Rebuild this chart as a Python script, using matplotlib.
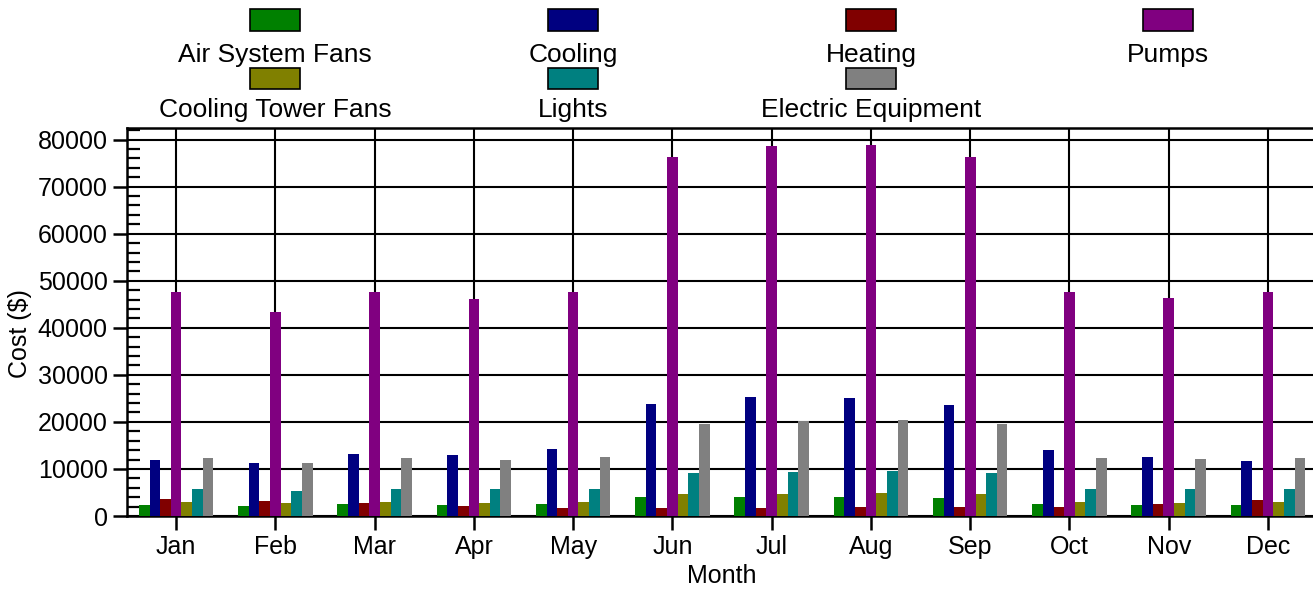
import numpy as np
import matplotlib
matplotlib.use('Agg')
import matplotlib.pyplot as plt
from matplotlib.patches import Rectangle
from matplotlib.ticker import MultipleLocator

plt.rcParams['font.family'] = ['Liberation Sans', 'DejaVu Sans']
plt.rcParams['font.size'] = 18

# months on the x axis
months = ['Jan', 'Feb', 'Mar', 'Apr', 'May', 'Jun', 'Jul', 'Aug', 'Sep', 'Oct', 'Nov', 'Dec']

# monthly cost per end use ($)
air_system_fans = [2340, 2130, 2480, 2410, 2550, 3970, 4040, 4040, 3900, 2480, 2340, 2340]
cooling = [11850, 11200, 13120, 12980, 14180, 23830, 25250, 25040, 23620, 14040, 12480, 11770]
heating = [3690, 3120, 2770, 2130, 1700, 1770, 1770, 1840, 1840, 1910, 2550, 3400]
pumps = [47700, 43300, 47700, 46200, 47700, 76300, 78600, 78800, 76200, 47700, 46300, 47700]
cooling_tower_fans = [2910, 2700, 2980, 2840, 2980, 4610, 4750, 4820, 4610, 2980, 2840, 2980]
lights = [5740, 5250, 5810, 5670, 5810, 9150, 9430, 9500, 9150, 5740, 5670, 5740]
electric_equipment = [12340, 11280, 12410, 11990, 12480, 19650, 20280, 20350, 19650, 12340, 12060, 12340]

series = [
    ('Air System Fans', air_system_fans, '#008000'),
    ('Cooling', cooling, '#000080'),
    ('Heating', heating, '#800000'),
    ('Pumps', pumps, '#800080'),
    ('Cooling Tower Fans', cooling_tower_fans, '#808000'),
    ('Lights', lights, '#008080'),
    ('Electric Equipment', electric_equipment, '#808080'),
]

W, H = 1313, 590
fig = plt.figure(figsize=(W / 100, H / 100), dpi=100)

# axes placed in pixel terms (right edge runs just past the figure)
left, right, bottom, top = 126.5, 1317.6, 516, 128.3
ax = fig.add_axes([left / W, 1 - bottom / H, (right - left) / W, (bottom - top) / H])

x = np.arange(len(months))
n = len(series)
bw = 0.75 / n
for i, (name, vals, col) in enumerate(series):
    ax.bar(x + (i - (n - 1) / 2) * bw, vals, width=bw, color=col, linewidth=0, zorder=3)

ax.set_xlim(-0.5, 11.5)
ax.set_ylim(0, 82400)
ax.set_xticks(x)
ax.set_xticklabels(months)
ax.yaxis.set_major_locator(MultipleLocator(10000))
ax.yaxis.set_minor_locator(MultipleLocator(2000))
ax.tick_params(axis='both', which='major', direction='out', length=10, width=1.8, pad=3.5, color='black')
ax.tick_params(axis='y', which='minor', direction='in', length=9, width=1.6)
ax.grid(True, which='major', color='black', linewidth=1.5, zorder=0)
ax.set_axisbelow(True)
for s in ax.spines.values():
    s.set_linewidth(1.8)
    s.set_color('black')

ax.set_xlabel('Month')
ax.xaxis.set_label_coords(0.5, (bottom - 576) / (bottom - top))
ax.xaxis.label.set_va('center')
ax.set_ylabel('Cost ($)')
ax.yaxis.set_label_coords((20 - left) / (right - left), (bottom - 334) / (bottom - top))
ax.yaxis.label.set_va('center')

# legend: swatch above each label, four columns, row-major
col_centers = [275, 573, 871, 1168]
rows = [(9.3, 31, 62), (67.7, 89.3, 117)]
for i, (name, vals, col) in enumerate(series):
    r, c = divmod(i, 4)
    y0, y1, base = rows[r]
    cx = col_centers[c]
    fig.add_artist(Rectangle(((cx - 25) / W, 1 - y1 / H), 50 / W, (y1 - y0) / H,
                             transform=fig.transFigure, facecolor=col,
                             edgecolor='black', linewidth=1.2))
    fig.text(cx / W, 1 - base / H, name, ha='center', va='baseline', fontsize=19)

fig.savefig('out.png', dpi=100)
